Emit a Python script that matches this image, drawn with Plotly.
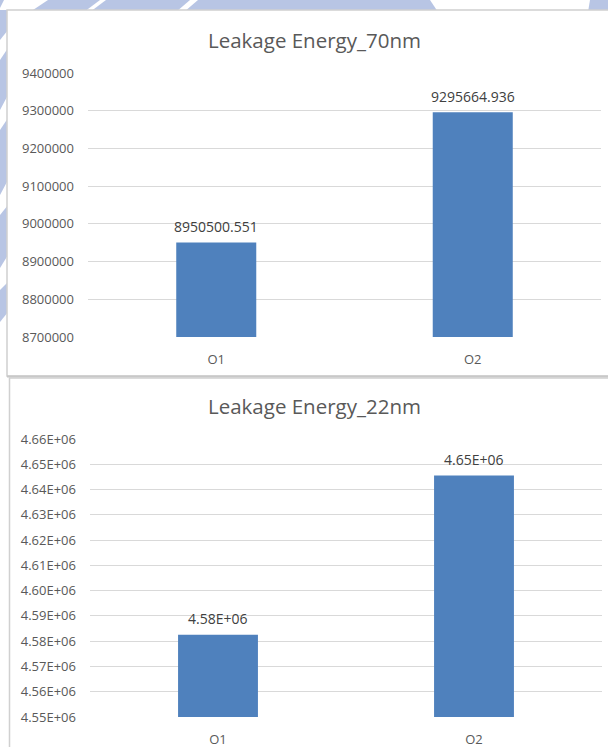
import plotly.graph_objects as go

W, H = 608, 747

# ---- data ----
categories = ["O1", "O2"]
energy_70nm = [8950500.551, 9295664.936]
energy_22nm = [4582500.0, 4645600.0]
ticks_70nm = [8700000, 8800000, 8900000, 9000000, 9100000, 9200000, 9300000, 9400000]
ticks_22nm = [4550000, 4560000, 4570000, 4580000, 4590000, 4600000,
              4610000, 4620000, 4630000, 4640000, 4650000, 4660000]
title_70nm = "Leakage Energy_70nm"
title_22nm = "Leakage Energy_22nm"

BAR = "#4f81bd"
GRID = "#d9d9d9"
TXT = "#595959"
LBL = "#404040"
FONT = "Open Sans"


def px(x):
    return x / W


def py(y):
    return 1 - y / H


def poly(points, color):
    path = "M " + " L ".join(f"{px(x):.5f},{py(y):.5f}" for x, y in points) + " Z"
    return dict(type="path", xref="paper", yref="paper", path=path,
                fillcolor=color, line=dict(width=0), layer="below")


fig = go.Figure()

fig.add_trace(go.Bar(x=categories, y=energy_70nm, marker=dict(color=BAR, line=dict(width=0)),
                     xaxis="x", yaxis="y", width=0.312, hoverinfo="x+y"))
fig.add_trace(go.Bar(x=categories, y=energy_22nm, marker=dict(color=BAR, line=dict(width=0)),
                     xaxis="x2", yaxis="y2", width=0.312, hoverinfo="x+y"))

# value labels above the bars
annotations = []
for c, v in zip(categories, energy_70nm):
    annotations.append(dict(x=c, y=v, xref="x", yref="y", text=f"{v:.3f}",
                            showarrow=False, yanchor="middle", yshift=16,
                            font=dict(family=FONT, size=14, color=LBL)))
for c, v in zip(categories, energy_22nm):
    annotations.append(dict(x=c, y=v, xref="x2", yref="y2", text=f"{v:.2E}",
                            showarrow=False, yanchor="middle", yshift=16,
                            font=dict(family=FONT, size=14, color=LBL)))

# chart titles
annotations.append(dict(x=px(314), y=py(40), xref="paper", yref="paper", text=title_70nm,
                        showarrow=False, xanchor="center", yanchor="middle",
                        font=dict(family=FONT, size=20.5, color=TXT)))
annotations.append(dict(x=px(314), y=py(406), xref="paper", yref="paper", text=title_22nm,
                        showarrow=False, xanchor="center", yanchor="middle",
                        font=dict(family=FONT, size=20.5, color=TXT)))

WM = "#b8c5e4"
shapes = [
    # light background pattern around the charts
    poly([(0, 0), (4, 0), (0, 8)], WM),
    poly([(48, 0), (100, 0), (84, 12), (30, 12)], WM),
    poly([(106, 0), (190, 0), (176, 12), (90, 12)], WM),
    poly([(198, 0), (430, 0), (438, 12), (184, 12)], WM),
    poly([(590, 0), (608, 0), (608, 12), (588, 12)], WM),
    poly([(0, 10), (8, 10), (8, 30), (0, 40)], WM),
    poly([(0, 60), (8, 48), (8, 95), (0, 110)], WM),
    poly([(0, 130), (8, 118), (8, 180), (0, 195)], WM),
    poly([(0, 215), (8, 205), (8, 255), (0, 268)], WM),
    poly([(0, 290), (8, 282), (8, 312), (0, 322)], WM),
    # chart frames
    dict(type="rect", xref="paper", yref="paper", x0=px(7), x1=px(612), y0=py(376), y1=py(10),
         fillcolor="white", line=dict(color="#d0d0d0", width=1.5), layer="below"),
    dict(type="line", xref="paper", yref="paper", x0=px(7), x1=px(612), y0=py(376.5), y1=py(376.5),
         line=dict(color="#c8c8c8", width=2), layer="below"),
    dict(type="rect", xref="paper", yref="paper", x0=px(9.5), x1=px(612), y0=py(760), y1=py(378),
         fillcolor="white", line=dict(color="#d0d0d0", width=1.5), layer="below"),
]

axis_common = dict(showline=False, zeroline=False, fixedrange=True, automargin=False)
# category axes: invisible tick marks push the labels a little below the baseline
xaxis_common = dict(ticks="outside", ticklen=4, tickcolor="rgba(0,0,0,0)", showgrid=False,
                    tickfont=dict(family=FONT, size=13, color=TXT), ticklabelstandoff=6,
                    **axis_common)
yaxis_common = dict(ticks="", tickmode="array", showgrid=True, gridcolor=GRID, gridwidth=1,
                    tickfont=dict(family=FONT, size=13, color=TXT), ticklabelstandoff=13,
                    **axis_common)

fig.update_layout(
    width=W, height=H,
    margin=dict(l=0, r=0, t=0, b=0, autoexpand=False),
    paper_bgcolor="white",
    plot_bgcolor="rgba(0,0,0,0)",
    showlegend=False,
    bargap=0.69,
    font=dict(family=FONT, color=TXT),
    xaxis=dict(domain=[px(88), px(601)], anchor="y", **xaxis_common),
    yaxis=dict(domain=[py(337), py(73)], anchor="x", range=[ticks_70nm[0], ticks_70nm[-1]],
               tickvals=ticks_70nm, ticktext=[str(t) for t in ticks_70nm], **yaxis_common),
    xaxis2=dict(domain=[px(90), px(602)], anchor="y2", **xaxis_common),
    yaxis2=dict(domain=[py(717), py(439)], anchor="x2", range=[ticks_22nm[0], ticks_22nm[-1]],
                tickvals=ticks_22nm, ticktext=[f"{t:.2E}" for t in ticks_22nm], **yaxis_common),
    annotations=annotations,
    shapes=shapes,
)

fig.write_html("out.html", config=dict(displayModeBar=False))
